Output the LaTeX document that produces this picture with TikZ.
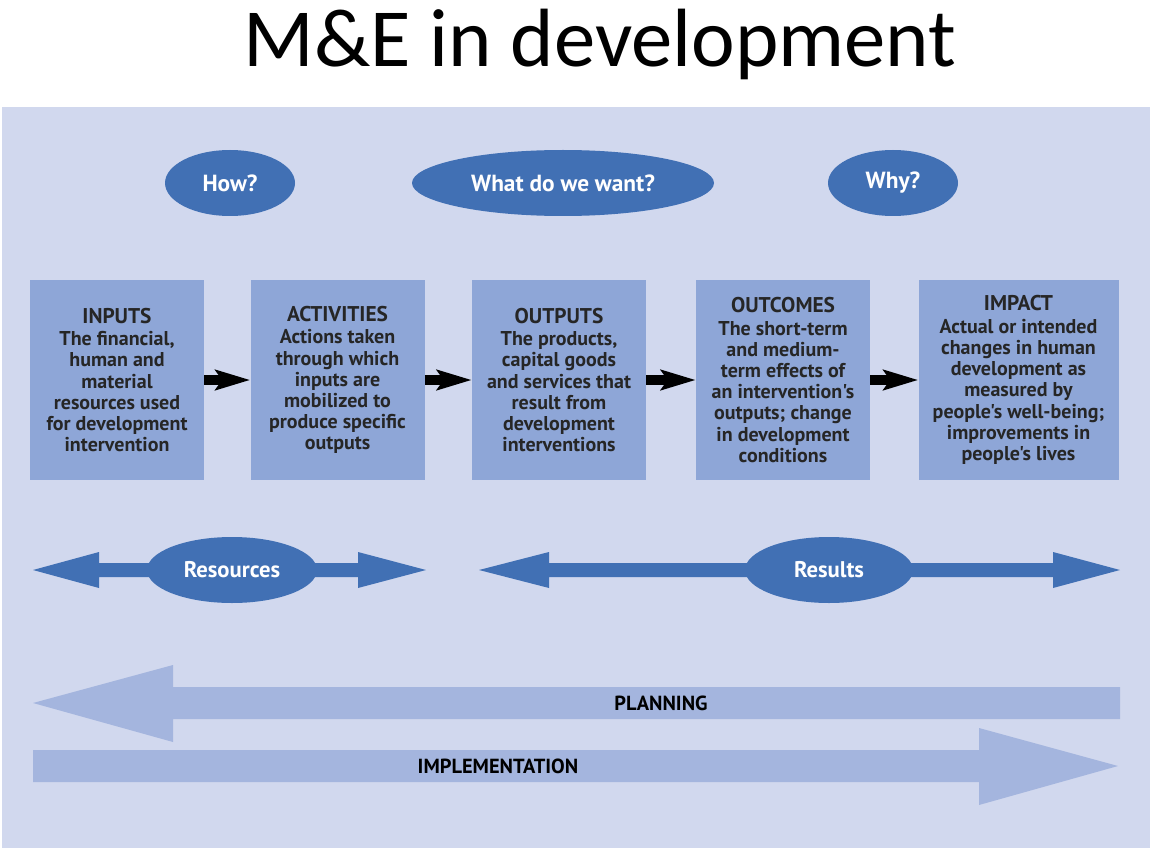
\documentclass[tikz,border=0pt]{standalone}
\usepackage{fontspec}
\usetikzlibrary{shapes.geometric,arrows.meta}
\setmainfont{PT Sans}
\newfontfamily\titlefont{Carlito}
\newfontfamily\dfont{PT Sans}
\definecolor{panelbg}{HTML}{D1D8EE}
\definecolor{boxfill}{HTML}{8EA6D7}
\definecolor{ellblue}{HTML}{4170B4}
\definecolor{lightarrow}{HTML}{A4B5DE}
\newcommand{\stagetitle}[1]{{\bfseries\fontsize{16}{18.75}\selectfont #1}}
\tikzset{
  stagebox/.style={draw=none, fill=boxfill, minimum width=130.5pt, minimum height=150pt,
    inner sep=0pt, align=center, font=\dfont\bfseries\fontsize{15}{15.9}\selectfont, text=black!85},
  qell/.style={ellipse, fill=ellblue, inner sep=0pt, text=white,
    font=\dfont\bfseries\fontsize{17.5}{20}\selectfont, minimum height=49.5pt},
  rell/.style={ellipse, fill=ellblue, inner sep=0pt, text=white,
    font=\dfont\bfseries\fontsize{17}{20}\selectfont, minimum height=49.5pt},
  flowarrow/.style={draw=black, line width=8pt,
    -{Stealth[length=26pt, width=15pt, inset=5pt]}},
  barlabel/.style={text=black, font=\dfont\bfseries\fontsize{15.3}{17}\selectfont}
}
\begin{document}
\begin{tikzpicture}[x=0.75pt, y=-0.75pt]
\useasboundingbox (0,0) rectangle (1152,852);
\fill[white] (0,0) rectangle (1152,852);
\fill[panelbg] (2,107) rectangle (1150,848);

% title
\node (title) at (600,44) {\titlefont\fontsize{62}{66}\selectfont M\&E in development};

% question ellipses
\node[qell, minimum width=97.5pt] (how) at (230,183) {How?};
\node[qell, minimum width=226.5pt] (what) at (563,183) {What do we want?};
\node[qell, minimum width=97.5pt] (why) at (893,183) {Why?};

% stage boxes
\node[stagebox] (inputs) at (117,380) {\stagetitle{INPUTS}\\[1pt]The financial,\\human and\\material\\resources used\\for development\\intervention};
\node[stagebox] (activities) at (337.5,380) {\stagetitle{ACTIVITIES}\\[1pt]Actions taken\\through which\\inputs are\\mobilized to\\produce specific\\outputs};
\node[stagebox] (outputs) at (559,380) {\stagetitle{OUTPUTS}\\[1pt]The products,\\capital goods\\and services that\\result from\\development\\interventions};
\node[stagebox] (outcomes) at (783,380) {\stagetitle{OUTCOMES}\\[1pt]The short-term\\and medium-\\term effects of\\an intervention's\\outputs; change\\in development\\conditions};
\node[stagebox, minimum width=150pt] (impact) at (1018.5,380) {\stagetitle{IMPACT}\\[1pt]Actual or intended\\changes in human\\development as\\measured by\\people's well-being;\\improvements in\\people's lives};

\draw[flowarrow] (inputs.east) -- (activities.west);
\draw[flowarrow] (activities.east) -- (outputs.west);
\draw[flowarrow] (outputs.east) -- (outcomes.west);
\draw[flowarrow] (outcomes.east) -- (impact.west);

% resources / results double arrows
\fill[ellblue] (33,570) -- (99,552) -- (99,563) -- (358,563) -- (358,552) -- (426,570)
  -- (358,588) -- (358,577) -- (99,577) -- (99,588) -- cycle;
\node[rell, minimum width=127.5pt] (resources) at (232,570) {Resources};
\fill[ellblue] (479,570) -- (549,552) -- (549,563) -- (1053,563) -- (1053,552) -- (1120,570)
  -- (1053,588) -- (1053,577) -- (549,577) -- (549,588) -- cycle;
\node[rell, minimum width=126pt] (results) at (829,570) {Results};

% planning / implementation
\fill[lightarrow] (33,703) -- (173,665) -- (173,687) -- (1120,687) -- (1120,719)
  -- (173,719) -- (173,742) -- cycle;
\node[barlabel] (planning) at (661,703) {PLANNING};
\fill[lightarrow] (33,750) -- (979,750) -- (979,728) -- (1118,766) -- (979,805)
  -- (979,782) -- (33,782) -- cycle;
\node[barlabel] (implementation) at (498,766) {IMPLEMENTATION};
\end{tikzpicture}
\end{document}
